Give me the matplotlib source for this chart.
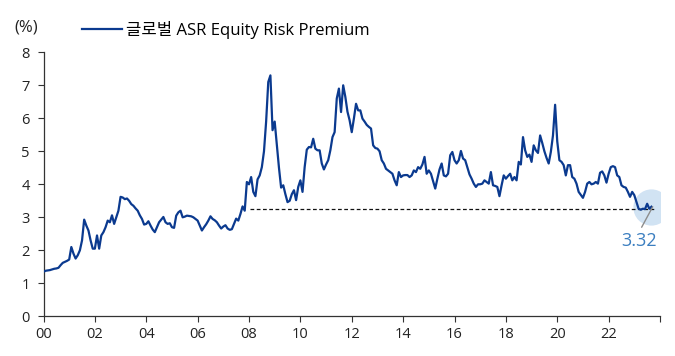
import matplotlib
matplotlib.use("Agg")
import matplotlib.pyplot as plt
import numpy as np

plt.rcParams['font.family'] = ['Open Sans', 'Noto Sans CJK KR', 'DejaVu Sans']

# Monthly values, Jan 2000 .. Sep 2023 (%)
erp_by_year = {
    2000: [1.35, 1.38, 1.39, 1.40, 1.42, 1.44, 1.45, 1.47, 1.55, 1.62, 1.65, 1.68],
    2001: [1.72, 2.10, 1.90, 1.75, 1.85, 2.00, 2.30, 2.93, 2.75, 2.60, 2.30, 2.05],
    2002: [2.05, 2.45, 2.05, 2.45, 2.55, 2.70, 2.90, 2.85, 3.06, 2.80, 3.00, 3.20],
    2003: [3.62, 3.60, 3.55, 3.57, 3.50, 3.40, 3.35, 3.27, 3.20, 3.06, 2.95, 2.78],
    2004: [2.80, 2.88, 2.75, 2.63, 2.55, 2.70, 2.85, 2.93, 3.01, 2.85, 2.80, 2.82],
    2005: [2.70, 2.68, 3.05, 3.15, 3.20, 3.00, 3.02, 3.05, 3.04, 3.03, 3.00, 2.95],
    2006: [2.90, 2.75, 2.60, 2.70, 2.79, 2.90, 3.03, 2.95, 2.91, 2.85, 2.75, 2.66],
    2007: [2.72, 2.76, 2.66, 2.62, 2.64, 2.80, 2.96, 2.90, 3.10, 3.33, 3.20, 4.07],
    2008: [4.00, 4.22, 3.77, 3.64, 4.15, 4.27, 4.52, 5.00, 5.90, 7.10, 7.30, 5.64],
    2009: [5.90, 5.20, 4.50, 3.90, 3.97, 3.70, 3.46, 3.50, 3.70, 3.82, 3.52, 3.92],
    2010: [4.12, 3.77, 4.52, 5.05, 5.13, 5.12, 5.38, 5.08, 5.03, 5.03, 4.63, 4.45],
    2011: [4.60, 4.73, 5.03, 5.43, 5.58, 6.60, 6.90, 6.19, 7.00, 6.65, 6.20, 5.94],
    2012: [5.58, 5.99, 6.44, 6.24, 6.24, 5.99, 5.90, 5.80, 5.74, 5.69, 5.18, 5.10],
    2013: [5.08, 5.00, 4.73, 4.63, 4.47, 4.42, 4.37, 4.32, 4.12, 3.97, 4.37, 4.22],
    2014: [4.27, 4.28, 4.28, 4.22, 4.27, 4.42, 4.37, 4.52, 4.47, 4.60, 4.83, 4.32],
    2015: [4.42, 4.32, 4.10, 3.87, 4.17, 4.45, 4.63, 4.27, 4.24, 4.32, 4.88, 4.98],
    2016: [4.73, 4.63, 4.73, 5.01, 4.78, 4.73, 4.52, 4.30, 4.17, 4.02, 3.92, 4.00],
    2017: [4.00, 4.02, 4.12, 4.07, 4.02, 4.37, 3.97, 3.95, 3.92, 3.64, 3.97, 4.27],
    2018: [4.17, 4.25, 4.32, 4.12, 4.22, 4.12, 4.68, 4.60, 5.43, 5.03, 4.83, 4.90],
    2019: [4.68, 5.18, 5.03, 4.95, 5.48, 5.25, 5.00, 4.80, 4.63, 4.98, 5.48, 6.41],
    2020: [5.30, 4.73, 4.68, 4.58, 4.27, 4.58, 4.58, 4.22, 4.17, 4.02, 3.77, 3.68],
    2021: [3.59, 3.77, 4.02, 4.07, 4.00, 4.02, 4.07, 4.02, 4.35, 4.39, 4.27, 4.05],
    2022: [4.32, 4.52, 4.55, 4.52, 4.27, 4.22, 3.97, 3.92, 3.90, 3.77, 3.62, 3.77],
    2023: [3.67, 3.46, 3.26, 3.23, 3.26, 3.25, 3.41, 3.26, 3.32],
}
ref_level = 3.25          # dashed reference level
ref_start = 2008.05       # dashed line start (year)
last_label = "3.32"
series_name = "글로벌 ASR Equity Risk Premium"
xtick_years = list(range(2000, 2025, 2))
xtick_labels = ["00", "02", "04", "06", "08", "10", "12", "14", "16", "18", "20", "22", ""]
yticks = list(range(0, 9))

t = []
v = []
for yr, vals in erp_by_year.items():
    for m, val in enumerate(vals):
        t.append(yr + m / 12.0)
        v.append(val)
t = np.array(t)
v = np.array(v)

fig = plt.figure(figsize=(6.75, 3.56), dpi=100)
ax = fig.add_axes([43.5 / 675, 1 - 316.3 / 356, (660 - 43.5) / 675, (316.3 - 52.3) / 356])

line_color = '#0b3a8f'
# highlight circle at last point
ax.scatter([t[-1]], [v[-1]], s=680, color='#c9def2', alpha=0.85, zorder=1, linewidths=0)
ax.plot([ref_start, t[-1] + 0.1], [ref_level, ref_level], linestyle=(0, (3, 2)),
        color='#111111', linewidth=0.9, zorder=2)
ln, = ax.plot(t, v, color=line_color, linewidth=1.6, zorder=3, label=series_name)

ax.annotate(last_label, xy=(t[-1] + 0.05, v[-1]), xytext=(-10, -25), textcoords='offset points',
            ha='center', va='center', fontsize=13, color='#3b7ec0',
            arrowprops=dict(arrowstyle='-', color='#8c8c8c', lw=1.0,
                            relpos=(0.5, 1.0), shrinkA=2, shrinkB=0), zorder=4)

ax.set_xlim(2000, 2024)
ax.set_ylim(0, 8)
ax.set_xticks(xtick_years)
ax.set_xticklabels(xtick_labels)
ax.set_yticks(yticks)
for s in ['top', 'right']:
    ax.spines[s].set_visible(False)
for s in ['left', 'bottom']:
    ax.spines[s].set_color('#333333')
    ax.spines[s].set_linewidth(0.9)
ax.tick_params(axis='both', direction='out', length=4, width=0.8, color='#333333',
               labelsize=10.5, labelcolor='#222222')
ax.tick_params(axis='y', pad=6)
ax.tick_params(axis='x', pad=4)

fig.text(14 / 675, 1 - 28 / 356, "(%)", fontsize=12, color='#222222', va='center', ha='left')
fig.legend(handles=[ln], loc='center left', bbox_to_anchor=(67 / 675, 1 - 30 / 356),
           frameon=False, fontsize=12, handlelength=2.4, handletextpad=0.25)

fig.savefig("out.png", dpi=100)
